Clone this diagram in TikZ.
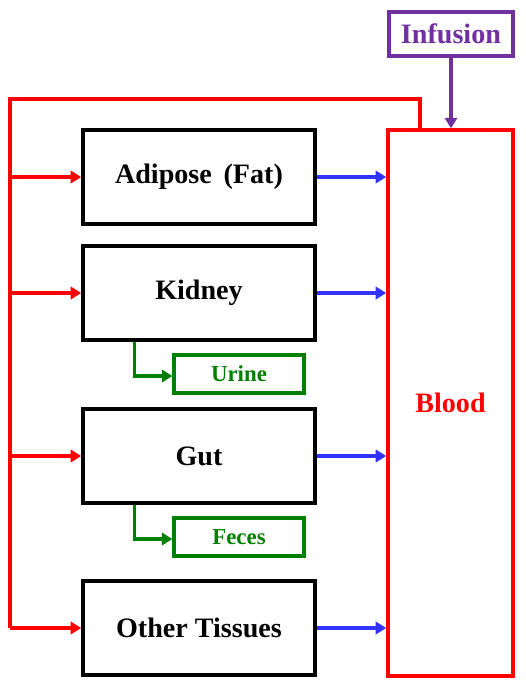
\documentclass[tikz,border=0pt]{standalone}
\usepackage{fontspec}
\setmainfont{Liberation Serif}
\usepackage{tikz}
\usetikzlibrary{arrows.meta,positioning,calc}
\definecolor{bloodred}{RGB}{255,0,0}
\definecolor{flowblue}{RGB}{51,51,255}
\definecolor{excgreen}{RGB}{0,128,0}
\definecolor{infpurple}{RGB}{112,48,160}

\begin{document}
\begin{tikzpicture}[
  x=0.02cm, y=-0.02cm,
  organ/.style={rectangle, draw=black, line width=2pt, fill=white,
                minimum width=4.64cm, minimum height=1.88cm,
                inner sep=0pt, font=\fontsize{16}{18}\selectfont\bfseries},
  excr/.style={rectangle, draw=excgreen, line width=1.8pt, fill=white,
               minimum width=2.6cm, minimum height=0.76cm, inner sep=0pt,
               text=excgreen, font=\fontsize{13}{15}\selectfont\bfseries},
  blood/.style={rectangle, draw=bloodred, line width=2pt,
                minimum width=2.5cm, minimum height=10.92cm, inner sep=0pt,
                text=bloodred, font=\fontsize{16}{18}\selectfont\bfseries},
  infus/.style={rectangle, draw=infpurple, line width=2pt,
                minimum width=2.48cm, minimum height=0.88cm, inner sep=0pt,
                text=infpurple, font=\fontsize{16}{18}\selectfont\bfseries},
  redarr/.style={-{Triangle[length=6pt, width=7pt]}, bloodred, line width=2pt},
  bluearr/.style={-{Triangle[length=6pt, width=7pt]}, flowblue, line width=2pt},
  grnarr/.style={-{Triangle[length=6pt, width=7pt]}, excgreen, line width=1.8pt},
  purarr/.style={-{Triangle[length=6pt, width=7pt]}, infpurple, line width=2pt},
]
\useasboundingbox (0,0) rectangle (525,684);

%% ── Compartments ───────────────────────────────────────────────────────
\node[organ] (adipose) at (199,177) {Adipose\, (Fat)};
\node[organ] (kidney)  at (199,293) {Kidney};
\node[organ] (gut)     at (199,456) {Gut};
\node[organ] (other)   at (199,628) {Other Tissues};

\node[excr] (urine) at (239,374) {Urine};
\node[excr] (feces) at (239,537) {Feces};

\node[blood] (blood) at (450.5,403) {Blood};
\node[infus] (infusion) at (451,34) {Infusion};

%% ── Infusion into blood ────────────────────────────────────────────────
\draw[purarr] (infusion.south) -- (infusion.south |- blood.north);

%% ── Arterial supply (red) ──────────────────────────────────────────────
\coordinate (bend) at (420,99);
\coordinate (ltop) at (10,99);
\draw[bloodred, line width=2pt] (blood.north -| bend) -- (bend) -- (ltop)
  -- (ltop |- other.west);
\foreach \o in {adipose, kidney, gut, other} {
  \draw[redarr] (ltop |- \o.west) -- (\o.west);
}

%% ── Venous return (blue) ───────────────────────────────────────────────
\foreach \o in {adipose, kidney, gut, other} {
  \draw[bluearr] (\o.east) -- (\o.east -| blood.west);
}

%% ── Excretion (green) ──────────────────────────────────────────────────
\coordinate (ktap) at ($(kidney.south west)+(53,0)$);
\coordinate (gtap) at ($(gut.south west)+(53,0)$);
\draw[grnarr] (ktap) -- ($(ktap |- urine.west)+(0,2)$) -- ($(urine.west)+(0,2)$);
\draw[grnarr] (gtap) -- ($(gtap |- feces.west)+(0,2)$) -- ($(feces.west)+(0,2)$);

\end{tikzpicture}
\end{document}
